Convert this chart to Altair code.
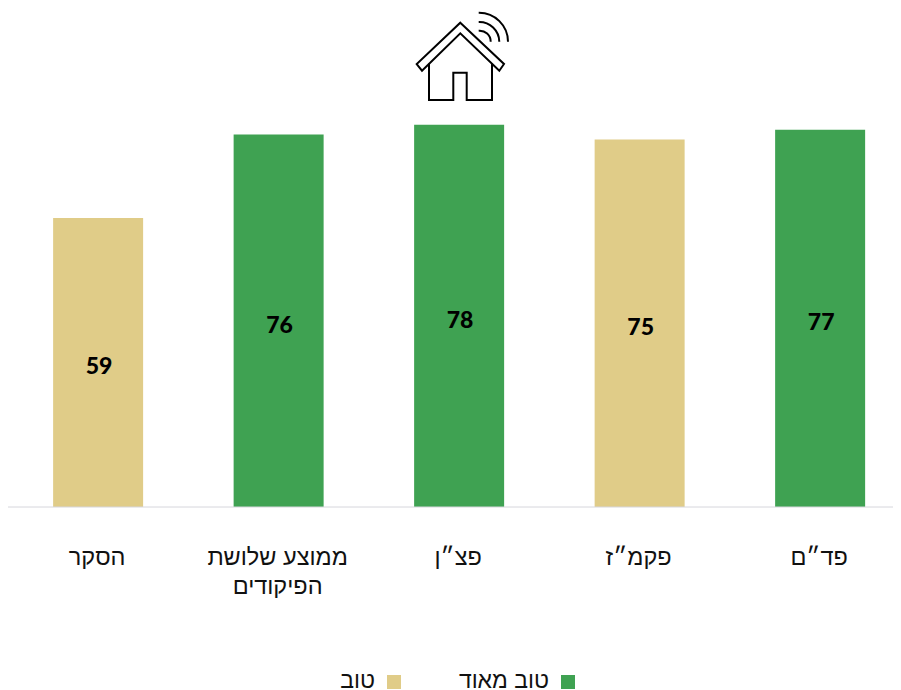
import altair as alt
import pandas as pd

categories = ["הסקר", "ממוצע שלושת|הפיקודים", "פצ״ן", "פקמ״ז", "פד״ם"]
values = [59, 76, 78, 75, 77]
levels = ["טוב", "טוב מאוד", "טוב מאוד", "טוב", "טוב מאוד"]
legend_labels = ["טוב מאוד", "טוב"]
legend_colors = ["#3fa252", "#e0cc88"]

HEB = "Liberation Sans"
INK = "#111111"

df = pd.DataFrame({"cat": categories, "value": values, "level": levels})
df["mid"] = df["value"] / 2

xscale = alt.Scale(domain=categories, paddingInner=0.5, paddingOuter=0.2015, align=0.6186)
yscale = alt.Scale(domain=[0, 101.84], range=[499, 0], nice=False)
x = alt.X("cat:N", sort=categories, title=None, scale=xscale, axis=None)

bars = alt.Chart(df).mark_bar(size=90).encode(
    x=x,
    y=alt.Y("value:Q", scale=yscale, axis=None),
    color=alt.Color("level:N", scale=alt.Scale(domain=legend_labels, range=legend_colors), legend=None),
)

nums = alt.Chart(df).mark_text(font="Lato", fontWeight=900, fontSize=23,
                               color="black", dx=1, dy=5, baseline="middle").encode(
    x=x,
    y=alt.Y("mid:Q", scale=yscale, axis=None),
    text="value:Q",
)

cat_labels = alt.Chart(df).mark_text(font=HEB, fontSize=23.5, fontWeight=300, color=INK, lineBreak="|",
                                     lineHeight=29, baseline="middle", dx=-1).encode(
    x=x, y=alt.value(550), text="cat:N")

baseline = alt.Chart(pd.DataFrame({"a": [0]})).mark_rule(color="#d6d6dc", strokeWidth=1).encode(
    x=alt.value(0), x2=alt.value(885), y=alt.value(499))

ICON_PATHS = [
    "M0.3 -37.3 L44 4 L39.3 10.7 L0.3 -26.7 L-38 10.7 L-43.3 4 Z",
    "M-31 3.5 V40 H-6.7 V12.7 H6.7 V40 H32 V3.5",
    "M18.7 -47.3 A29 29 0 0 1 48 -18.3",
    "M18.7 -38 A20 20 0 0 1 39.3 -18.3",
    "M18.7 -29.3 A11 11 0 0 1 30.7 -18.3",
]
icon = alt.layer(*[
    alt.Chart(pd.DataFrame({"a": [0]})).mark_point(
        shape=p, size=4, filled=False, stroke="black", strokeWidth=2, opacity=1
    ).encode(x=alt.value(452), y=alt.value(52))
    for p in ICON_PATHS
])

leg_df = pd.DataFrame({"label": legend_labels, "color": legend_colors,
                       "sq": [560, 386], "tx": [541, 367]})
leg_sq = alt.Chart(leg_df).mark_square(size=196, opacity=1).encode(
    x=alt.X("sq:Q", scale=None), y=alt.value(674),
    color=alt.Color("color:N", scale=None))
leg_tx = alt.Chart(leg_df).mark_text(font=HEB, fontSize=23, color=INK, align="right",
                                     baseline="middle").encode(
    x=alt.X("tx:Q", scale=None), y=alt.value(673), text="label:N")

chart = alt.layer(bars, baseline, nums, cat_labels, icon, leg_sq, leg_tx).resolve_scale(
    color="independent"
).properties(width=885, height=690, padding=0, background="white",
             autosize=alt.AutoSizeParams(type="none")).configure_view(stroke=None)

chart.save("out.html", embed_options={"renderer": "svg", "actions": False})
